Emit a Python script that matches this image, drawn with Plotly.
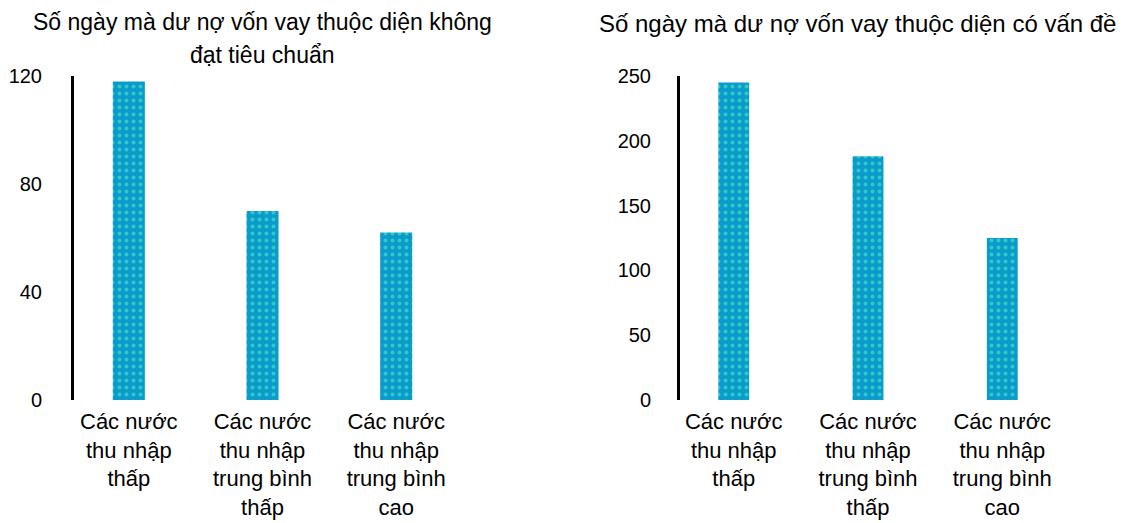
import plotly.graph_objects as go
from plotly.subplots import make_subplots

categories = ["Các nước<br>thu nhập<br>thấp",
              "Các nước<br>thu nhập<br>trung bình<br>thấp",
              "Các nước<br>thu nhập<br>trung bình<br>cao"]
left_values = [118, 70, 62]
right_values = [245, 188, 125]
left_title = ["Số ngày mà dư nợ vốn vay thuộc diện không", "đạt tiêu chuẩn"]
right_title = "Số ngày mà dư nợ vốn vay thuộc diện có vấn đề"
left_ticks = [0, 40, 80, 120]
right_ticks = [0, 50, 100, 150, 200, 250]

FONT = "Liberation Sans, Arial, sans-serif"
BAR = "#0A9BCB"
OFF = 8  # page body margin
W, H = 1124 - OFF, 523 - OFF


def fx(px):
    return (px - OFF) / W


def fy(py):
    return 1 - (py - OFF) / H


fig = make_subplots(rows=1, cols=2)
pattern = dict(shape=".", fgcolor="#30C8C8", bgcolor=BAR, size=7, solidity=0.25, fillmode="replace")
fig.add_trace(go.Bar(x=categories, y=left_values, width=0.24, marker=dict(color=BAR, line_width=0, pattern=pattern)), 1, 1)
fig.add_trace(go.Bar(x=categories, y=right_values, width=0.23, marker=dict(color=BAR, line_width=0, pattern=pattern)), 1, 2)

ybot = fy(400)
ytop = fy(76)
fig.update_layout(
    template="none",
    width=W, height=H, margin=dict(l=0, r=0, t=0, b=0, autoexpand=False),
    paper_bgcolor="white", plot_bgcolor="white", showlegend=False,
    font=dict(family=FONT, size=22, color="black"),
    xaxis=dict(domain=[fx(74), fx(451)], range=[-0.41, 2.41], showline=False, showgrid=False, automargin=False,
               ticks="", tickfont=dict(size=22), ticklabelstandoff=6),
    xaxis2=dict(domain=[fx(680), fx(1056)], range=[-0.40, 2.40], showline=False, showgrid=False, automargin=False,
                ticks="", tickfont=dict(size=22), ticklabelstandoff=6),
    yaxis=dict(domain=[ybot, ytop], range=[0, 120], tickvals=left_ticks, showgrid=False, zeroline=False,
               showline=True, linecolor="black", linewidth=3, ticks="", ticklabelstandoff=25, automargin=False,
               tickfont=dict(size=20)),
    yaxis2=dict(domain=[ybot, ytop], range=[0, 250], tickvals=right_ticks, showgrid=False, zeroline=False,
                showline=True, linecolor="black", linewidth=3, ticks="", ticklabelstandoff=22, automargin=False,
                tickfont=dict(size=20)),
)

cx = fx((74 + 451) / 2)
fig.add_annotation(text=left_title[0], xref="paper", yref="paper", x=cx, y=fy(22),
                   xanchor="center", yanchor="middle", showarrow=False, font=dict(size=23))
fig.add_annotation(text=left_title[1], xref="paper", yref="paper", x=cx, y=fy(55),
                   xanchor="center", yanchor="middle", showarrow=False, font=dict(size=23))
fig.add_annotation(text=right_title, xref="paper", yref="paper", x=fx(597), y=fy(24),
                   xanchor="left", yanchor="middle", showarrow=False, font=dict(size=24))

fig.write_html("out.html")
